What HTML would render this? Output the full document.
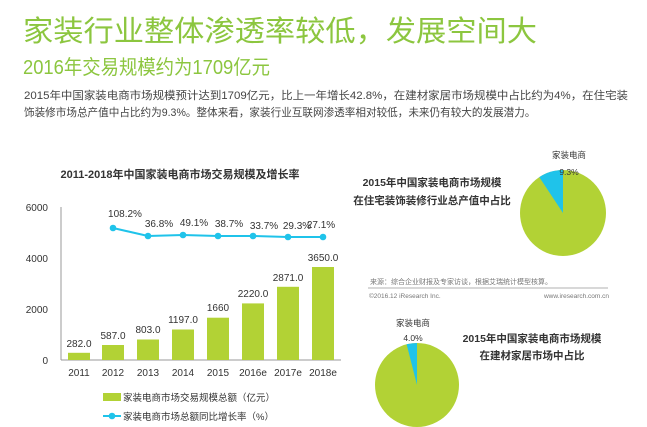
<!DOCTYPE html>
<html><head><meta charset="utf-8"><style>
html,body{margin:0;padding:0;background:#fff;}
svg{display:block;font-family:"Liberation Sans","Noto Sans CJK SC",sans-serif;}
</style></head><body>
<svg width="647" height="427" viewBox="0 0 647 427" xmlns="http://www.w3.org/2000/svg">
<text x="23" y="41" font-size="29" fill="#8cc63f" textLength="514" lengthAdjust="spacingAndGlyphs">家装行业整体渗透率较低，发展空间大</text>
<text x="23" y="74" font-size="20" fill="#8cc63f" textLength="247" lengthAdjust="spacingAndGlyphs">2016年交易规模约为1709亿元</text>
<text x="24" y="99" font-size="10.6" fill="#444" textLength="604" lengthAdjust="spacingAndGlyphs">2015年中国家装电商市场规模预计达到1709亿元，比上一年增长42.8%，在建材家居市场规模中占比约为4%，在住宅装</text>
<text x="24" y="116" font-size="10.6" fill="#444">饰装修市场总产值中占比约为9.3%。整体来看，家装行业互联网渗透率相对较低，未来仍有较大的发展潜力。</text>

<text x="180" y="178" font-size="11" font-weight="bold" fill="#333" text-anchor="middle">2011-2018年中国家装电商市场交易规模及增长率</text>
<g font-size="10" fill="#333" text-anchor="end">
<text x="48" y="211">6000</text><text x="48" y="262">4000</text><text x="48" y="313">2000</text><text x="48" y="364">0</text>
</g>
<line x1="61" y1="207" x2="61" y2="360" stroke="#999"/>
<line x1="61" y1="360" x2="341" y2="360" stroke="#999"/>
<g fill="#b2d235">
<rect x="68" y="352.8" width="22" height="7.2"/>
<rect x="102" y="345" width="22" height="15"/>
<rect x="137" y="339.5" width="22" height="20.5"/>
<rect x="172" y="329.5" width="22" height="30.5"/>
<rect x="207" y="317.7" width="22" height="42.3"/>
<rect x="242" y="303.4" width="22" height="56.6"/>
<rect x="277" y="286.8" width="22" height="73.2"/>
<rect x="312" y="267" width="22" height="93"/>
</g>
<g font-size="10" fill="#333" text-anchor="middle">
<text x="79" y="347">282.0</text><text x="113" y="339">587.0</text><text x="148" y="333">803.0</text><text x="183" y="323">1197.0</text><text x="218" y="311">1660</text><text x="253" y="297">2220.0</text><text x="288" y="281">2871.0</text><text x="323" y="261">3650.0</text>
<text x="79" y="376">2011</text><text x="113" y="376">2012</text><text x="148" y="376">2013</text><text x="183" y="376">2014</text><text x="218" y="376">2015</text><text x="253" y="376">2016e</text><text x="288" y="376">2017e</text><text x="323" y="376">2018e</text>
<text x="125" y="217">108.2%</text><text x="159" y="227">36.8%</text><text x="194" y="226">49.1%</text><text x="229" y="227">38.7%</text><text x="264" y="229">33.7%</text><text x="297" y="229">29.3%</text><text x="321" y="228">27.1%</text>
</g>
<polyline points="113,228 148,236 183,235 218,236 253,236 288,237 323,237" fill="none" stroke="#1fc3ea" stroke-width="2"/>
<g fill="#1fc3ea"><circle cx="113" cy="228" r="3.3"/><circle cx="148" cy="236" r="3.3"/><circle cx="183" cy="235" r="3.3"/><circle cx="218" cy="236" r="3.3"/><circle cx="253" cy="236" r="3.3"/><circle cx="288" cy="237" r="3.3"/><circle cx="323" cy="237" r="3.3"/></g>
<rect x="103" y="393" width="18" height="8" fill="#b2d235"/>
<text x="123" y="401" font-size="9.5" fill="#333">家装电商市场交易规模总额（亿元）</text>
<line x1="103" y1="416" x2="121" y2="416" stroke="#1fc3ea" stroke-width="2"/><circle cx="112" cy="416" r="3.3" fill="#1fc3ea"/>
<text x="123" y="420" font-size="9.5" fill="#333">家装电商市场总额同比增长率（%）</text>

<text x="432" y="186" font-size="10.5" font-weight="bold" fill="#333" text-anchor="middle">2015年中国家装电商市场规模</text>
<text x="432" y="204" font-size="10.5" font-weight="bold" fill="#333" text-anchor="middle">在住宅装饰装修行业总产值中占比</text>
<circle cx="563" cy="213" r="43" fill="#b2d235"/>
<path d="M563,213 L563,170 A43,43 0 0 0 539.3,177.1 Z" fill="#1fc3ea"/>
<text x="569" y="158" font-size="8.5" fill="#333" text-anchor="middle">家装电商</text>
<text x="569" y="175" font-size="8.5" fill="#333" text-anchor="middle">9.3%</text>

<text x="370" y="284" font-size="7" fill="#777">来源：综合企业财报及专家访谈，根据艾瑞统计模型核算。</text>
<line x1="368" y1="288" x2="608" y2="288" stroke="#999" stroke-width="0.8"/>
<text x="369" y="298" font-size="6.5" fill="#777">©2016.12 iResearch Inc.</text>
<text x="609" y="298" font-size="6.5" fill="#777" text-anchor="end">www.iresearch.com.cn</text>

<text x="532" y="342" font-size="10.5" font-weight="bold" fill="#333" text-anchor="middle">2015年中国家装电商市场规模</text>
<text x="532" y="359" font-size="10.5" font-weight="bold" fill="#333" text-anchor="middle">在建材家居市场中占比</text>
<circle cx="417" cy="385" r="42" fill="#b2d235"/>
<path d="M417,385 L417,343 A42,42 0 0 0 406.6,344.3 Z" fill="#1fc3ea"/>
<text x="413" y="326" font-size="8.5" fill="#333" text-anchor="middle">家装电商</text>
<text x="413" y="341" font-size="8.5" fill="#333" text-anchor="middle">4.0%</text>
</svg>
</body></html>
